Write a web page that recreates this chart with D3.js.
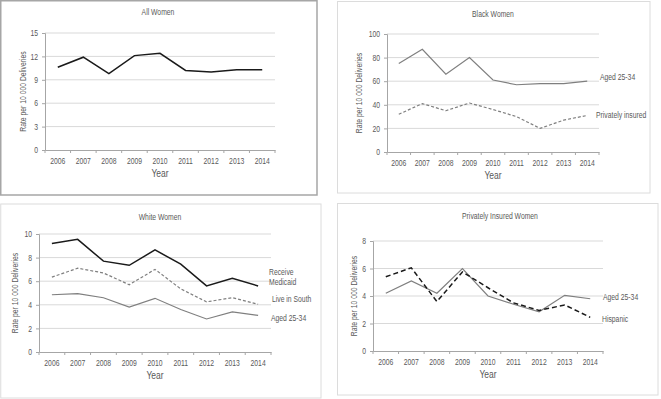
<!DOCTYPE html>
<html>
<head>
<meta charset="utf-8">
<script src="https://cdn.jsdelivr.net/npm/d3@7"></script>
<style>
  body { margin: 0; background: #fff; }
  svg text { font-family: "Liberation Sans", Arial, sans-serif; fill: #595959; }
</style>
</head>
<body>
<script>
    var years = ["2006", "2007", "2008", "2009", "2010", "2011", "2012", "2013", "2014"];

    // All Women
    var allWomen = [10.6, 11.9, 9.8, 12.1, 12.4, 10.2, 10.0, 10.3, 10.3];
    var allTicks = [0, 3, 6, 9, 12, 15];

    // Black Women
    var blackAged = [75, 87, 66, 80, 61, 57, 58, 58, 60];
    var blackInsured = [32, 41, 35, 41.5, 36, 30, 20, 27, 31];
    var blackTicks = [0, 20, 40, 60, 80, 100];

    // White Women
    var whiteMedicaid = [9.2, 9.55, 7.7, 7.35, 8.65, 7.45, 5.6, 6.25, 5.6];
    var whiteSouth = [6.35, 7.1, 6.7, 5.7, 7.0, 5.35, 4.25, 4.6, 4.05];
    var whiteAged = [4.85, 4.95, 4.6, 3.8, 4.55, 3.6, 2.8, 3.4, 3.1];
    var whiteTicks = [0, 2, 4, 6, 8, 10];

    // Privately Insured Women
    var privAged = [4.2, 5.1, 4.2, 6.0, 4.0, 3.4, 2.85, 4.05, 3.8];
    var privHispanic = [5.4, 6.05, 3.6, 5.75, 4.6, 3.5, 2.95, 3.35, 2.45];
    var privTicks = [0, 2, 4, 6, 8];

    var fs = 8.5;

    var svg = d3.select("body").append("svg")
      .attr("width", 661)
      .attr("height", 399);

    // squeeze text horizontally, the original uses a narrow font
    function condense(sel, k) {
      sel.each(function() {
        var w = this.getComputedTextLength();
        d3.select(this)
          .attr("textLength", w * (k || 0.8))
          .attr("lengthAdjust", "spacingAndGlyphs");
      });
    }

    function drawPanel(p) {
      var g = svg.append("g");

      //frame
      g.append("rect")
        .attr("x", p.frame[0]).attr("y", p.frame[1])
        .attr("width", p.frame[2] - p.frame[0])
        .attr("height", p.frame[3] - p.frame[1])
        .attr("fill", "none")
        .attr("stroke", p.frameColor)
        .attr("stroke-width", p.frameWidth);

      var x = d3.scaleBand().domain(years).range([p.left, p.right]);
      var y = d3.scaleLinear().domain([0, d3.max(p.ticks)]).range([p.bottom, p.top]);

      //grid lines
      g.append("g")
        .selectAll("line")
        .data(p.ticks.slice(1))
        .join("line")
        .attr("x1", p.left).attr("x2", p.right)
        .attr("y1", function(d) { return y(d); })
        .attr("y2", function(d) { return y(d); })
        .attr("stroke", "#d9d9d9")
        .attr("stroke-width", 1);

      //y axis
      var ya = g.append("g")
        .attr("transform", "translate(" + p.left + ",0)")
        .call(d3.axisLeft(y).tickValues(p.ticks).tickSize(3).tickPadding(4));
      ya.select(".domain").attr("stroke", "#a6a6a6");
      ya.selectAll(".tick line").attr("stroke", "#a6a6a6");
      ya.selectAll("text").attr("font-size", fs).attr("fill", "#595959").call(condense);

      //x axis with ticks at band edges
      var xa = g.append("g")
        .attr("transform", "translate(0," + p.bottom + ")")
        .call(d3.axisBottom(x).tickSize(0).tickPadding(8));
      xa.select(".domain").attr("stroke", "#a6a6a6");
      xa.selectAll("text").attr("font-size", fs).attr("fill", "#595959").call(condense);
      g.append("g")
        .selectAll("line")
        .data(years.concat(["end"]))
        .join("line")
        .attr("x1", function(d, i) { return p.left + i * x.step(); })
        .attr("x2", function(d, i) { return p.left + i * x.step(); })
        .attr("y1", p.bottom).attr("y2", p.bottom + 3)
        .attr("stroke", "#a6a6a6");

      //series
      p.series.forEach(function(s) {
        var line = d3.line()
          .x(function(d, i) { return x(years[i]) + x.bandwidth() / 2; })
          .y(function(d) { return y(d); });
        g.append("path")
          .datum(s.values)
          .attr("d", line)
          .attr("fill", "none")
          .attr("stroke", s.color)
          .attr("stroke-width", s.width)
          .attr("stroke-dasharray", s.dash || null)
          .attr("stroke-linejoin", "miter");
        if (s.label) {
          s.label.forEach(function(l, i) {
            g.append("text")
              .attr("x", s.labelX)
              .attr("y", y(s.labelY) + i * 10)
              .attr("font-size", fs)
              .attr("fill", "#404040")
              .text(l)
              .call(condense);
          });
        }
      });

      //title
      g.append("text")
        .attr("x", p.titleX).attr("y", p.titleY)
        .attr("text-anchor", "middle")
        .attr("font-size", fs)
        .attr("fill", "#404040")
        .text(p.title)
        .call(condense);

      //axis titles
      g.append("text")
        .attr("x", (p.left + p.right) / 2).attr("y", p.bottom + 27)
        .attr("text-anchor", "middle")
        .attr("font-size", 10)
        .attr("fill", "#595959")
        .text("Year")
        .call(condense, 0.85);
      g.append("text")
        .attr("transform", "translate(" + p.ylabX + "," + ((p.top + p.bottom) / 2) + ") rotate(-90)")
        .attr("text-anchor", "middle")
        .attr("font-size", fs)
        .attr("fill", "#595959")
        .text(p.ylab)
        .call(condense);
    }

    drawPanel({
      frame: [0.75, 0.75, 317, 195], frameColor: "#a6a6a6", frameWidth: 1.5,
      left: 45, right: 275, top: 33, bottom: 150, ticks: allTicks,
      title: "All Women", titleX: 158, titleY: 15,
      ylab: "Rate  per 10 000 Deliveries", ylabX: 26,
      series: [{values: allWomen, color: "#1a1a1a", width: 1.5}]
    });

    drawPanel({
      frame: [337.5, 1.5, 650, 193], frameColor: "#dcdcdc", frameWidth: 1,
      left: 387, right: 599, top: 34, bottom: 152, ticks: blackTicks,
      title: "Black Women", titleX: 493, titleY: 17,
      ylab: "Rate  per 10 000 Deliveries", ylabX: 362,
      series: [
        {values: blackAged, color: "#7f7f7f", width: 1.2, label: ["Aged 25-34"], labelX: 600, labelY: 61},
        {values: blackInsured, color: "#7f7f7f", width: 1.2, dash: "3,2", label: ["Privately insured"], labelX: 596, labelY: 29}
      ]
    });

    drawPanel({
      frame: [0.75, 204, 321, 398], frameColor: "#dcdcdc", frameWidth: 1,
      left: 39, right: 271, top: 234, bottom: 352, ticks: whiteTicks,
      title: "White Women", titleX: 160, titleY: 220,
      ylab: "Rate per 10 000 Deliveries", ylabX: 18,
      series: [
        {values: whiteMedicaid, color: "#1a1a1a", width: 1.5, label: ["Receive", "Medicaid"], labelX: 269, labelY: 6.5},
        {values: whiteSouth, color: "#7f7f7f", width: 1.2, dash: "3,2", label: ["Live in South"], labelX: 272, labelY: 4.2},
        {values: whiteAged, color: "#7f7f7f", width: 1.2, label: ["Aged 25-34"], labelX: 271, labelY: 2.6}
      ]
    });

    drawPanel({
      frame: [337.5, 203.5, 658, 395], frameColor: "#dcdcdc", frameWidth: 1,
      left: 373, right: 603, top: 241, bottom: 351, ticks: privTicks,
      title: "Privately Insured Women", titleX: 500, titleY: 219,
      ylab: "Rate per 10 000 Deliveries", ylabX: 357,
      series: [
        {values: privAged, color: "#7f7f7f", width: 1.2, label: ["Aged 25-34"], labelX: 603, labelY: 3.7},
        {values: privHispanic, color: "#1a1a1a", width: 1.5, dash: "5,3", label: ["Hispanic"], labelX: 602, labelY: 2.1}
      ]
    });
</script>
</body>
</html>
